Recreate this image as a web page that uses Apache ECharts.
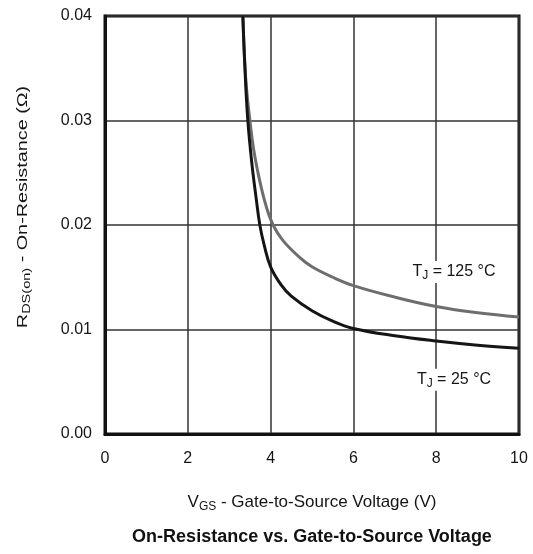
<!DOCTYPE html>
<html>
<head>
<meta charset="utf-8">
<script src="https://cdn.jsdelivr.net/npm/echarts@6/dist/echarts.min.js"></script>
<style>
  html, body { margin: 0; padding: 0; background: #fff; }
  #chart { width: 533px; height: 554px; }
</style>
</head>
<body>
<div id="chart"></div>
<script>
// Gate-to-source voltage (V) and on-resistance (ohm) for each junction temperature
const vgs25 = [3.33, 3.38, 3.45, 3.55, 3.65, 3.74, 3.85, 4.0, 4.25, 4.5, 5.0, 5.5, 6.0, 7.0, 8.0, 9.0, 10.0];
const rds25 = [0.040, 0.035, 0.030, 0.0258, 0.0226, 0.0200, 0.0180, 0.0160, 0.0143, 0.0132, 0.0118, 0.0108, 0.0101, 0.0094, 0.0089, 0.0085, 0.0082];

const vgs125 = [3.33, 3.40, 3.50, 3.60, 3.75, 3.90, 4.06, 4.30, 4.70, 5.0, 5.5, 6.0, 7.0, 8.0, 9.0, 10.0];
const rds125 = [0.040, 0.034, 0.030, 0.0270, 0.0240, 0.0217, 0.0200, 0.0185, 0.0169, 0.0160, 0.0150, 0.0142, 0.0131, 0.0122, 0.0116, 0.0112];

const xTicks = [0, 2, 4, 6, 8, 10];
const yTicks = [0.00, 0.01, 0.02, 0.03, 0.04];

const curveLabels = ['T{sub|J}{n| = 125 °C}', 'T{sub|J}{n| = 25 °C}'];
const labelAt = [[8.43, 0.0155], [8.43, 0.0052]];

const FONT = '"Liberation Sans", Arial, sans-serif';
const ink = '#151515';

function pairs(xs, ys) { return xs.map((x, i) => [x, ys[i]]); }

const chart = echarts.init(document.getElementById('chart'), null, { renderer: 'canvas' });

function subRich(size) {
  return {
    n: { fontSize: size, fontFamily: FONT, color: ink },
    sub: { fontSize: Math.round(size * 0.72), fontFamily: FONT, color: ink, padding: [Math.round(size * 0.5), 0, 0, 0] }
  };
}

function textMark(text, coord) {
  return {
    coord: coord,
    symbol: 'rect',
    symbolSize: 1,
    itemStyle: { color: 'rgba(0,0,0,0)' },
    label: {
      show: true,
      position: 'inside',
      formatter: text,
      fontSize: 16,
      fontFamily: FONT,
      color: ink,
      backgroundColor: '#fff',
      padding: [1, 3],
      rich: subRich(16)
    }
  };
}

chart.setOption({
  animation: false,
  backgroundColor: '#fff',
  grid: {
    left: 105, right: 14, top: 16, bottom: 120,
    show: true, borderColor: '#111', borderWidth: 3, backgroundColor: 'transparent'
  },
  xAxis: {
    type: 'value',
    min: xTicks[0], max: xTicks[xTicks.length - 1], interval: 2,
    axisLine: { show: true, lineStyle: { color: '#111', width: 3 } },
    axisTick: { show: false },
    axisLabel: { margin: 17, fontSize: 16, fontFamily: FONT, color: ink },
    splitLine: { show: true, lineStyle: { color: '#333', width: 1.5 } },
    name: '{n|V}{sub|GS}{n| - Gate-to-Source Voltage (V)}',
    nameLocation: 'middle',
    nameGap: 58,
    nameTextStyle: { rich: subRich(17) }
  },
  yAxis: {
    type: 'value',
    min: yTicks[0], max: yTicks[yTicks.length - 1], interval: 0.01,
    axisLine: { show: true, lineStyle: { color: '#111', width: 3 } },
    axisTick: { show: false },
    axisLabel: {
      margin: 13, fontSize: 16, fontFamily: FONT, color: ink,
      formatter: v => v.toFixed(2)
    },
    splitLine: { show: true, lineStyle: { color: '#333', width: 1.5 } }
  },
  graphic: [
    {
      type: 'text',
      x: 23, y: 207,
      rotation: Math.PI / 2,
      scaleX: 1.32,
      z: 10,
      style: {
        text: '{n|R}{sub|DS(on)}{n| - On-Resistance (Ω)}',
        align: 'center',
        verticalAlign: 'middle',
        rich: {
          n: { fontSize: 15, fontFamily: FONT, fill: ink },
          sub: { fontSize: 11, fontFamily: FONT, fill: ink, padding: [7, 0, 0, 0] }
        }
      }
    },
    {
      type: 'text',
      x: 312, y: 537,
      z: 10,
      style: {
        text: 'On-Resistance vs. Gate-to-Source Voltage',
        align: 'center',
        verticalAlign: 'middle',
        font: 'bold 18px "Liberation Sans", Arial, sans-serif',
        fill: '#111'
      }
    }
  ],
  series: [
    {
      name: '125 °C',
      type: 'line',
      data: pairs(vgs125, rds125),
      smooth: 0.4,
      showSymbol: false,
      lineStyle: { color: '#6e6e6e', width: 3 },
      z: 3,
      markPoint: { silent: true, data: [textMark(curveLabels[0], labelAt[0])] }
    },
    {
      name: '25 °C',
      type: 'line',
      data: pairs(vgs25, rds25),
      smooth: 0.4,
      showSymbol: false,
      lineStyle: { color: '#151515', width: 3 },
      z: 4,
      markPoint: { silent: true, data: [textMark(curveLabels[1], labelAt[1])] }
    }
  ]
});
</script>
</body>
</html>
